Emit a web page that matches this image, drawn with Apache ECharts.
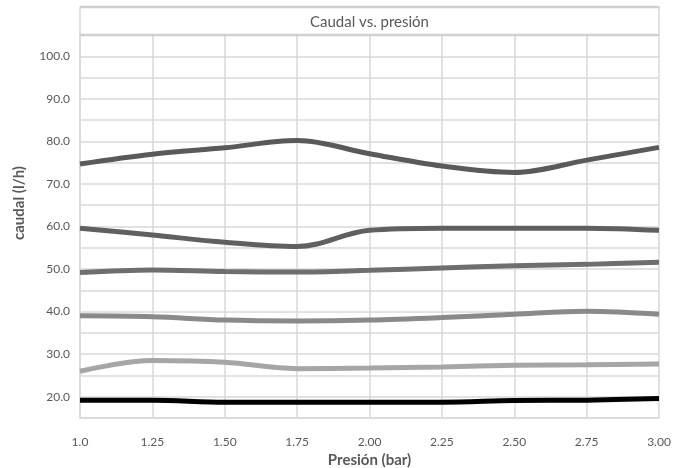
<!DOCTYPE html>
<html>
<head>
<meta charset="utf-8">
<script src="https://cdn.jsdelivr.net/npm/echarts@6/dist/echarts.min.js"></script>
<style>
html,body{margin:0;padding:0;background:#fff;}
#chart{width:676px;height:468px;}
</style>
</head>
<body>
<div id="chart"></div>
<script>
const categories = ["1.0","1.25","1.50","1.75","2.00","2.25","2.50","2.75","3.00"];
const serie1 = [74.7, 77.0, 78.5, 80.2, 77.1, 74.2, 72.7, 75.6, 78.6];
const serie2 = [59.6, 58.0, 56.3, 55.3, 59.1, 59.6, 59.6, 59.6, 59.1];
const serie3 = [49.2, 49.8, 49.4, 49.3, 49.7, 50.25, 50.8, 51.1, 51.6];
const serie4 = [39.0, 38.8, 38.0, 37.8, 38.0, 38.6, 39.4, 40.1, 39.4];
const serie5 = [26.0, 28.5, 28.1, 26.6, 26.75, 27.0, 27.4, 27.5, 27.7];
const serie6 = [19.2, 19.2, 18.7, 18.7, 18.7, 18.7, 19.1, 19.2, 19.6];
const seriesNames = ["Serie 1","Serie 2","Serie 3","Serie 4","Serie 5","Serie 6"];
const seriesData = [serie1, serie2, serie3, serie4, serie5, serie6];
const seriesColors = ["#5a5a5a","#606060","#6e6e6e","#8a8a8a","#a6a6a6","#000000"];

const FONT = 'Lato, "Open Sans", sans-serif';
const chart = echarts.init(document.getElementById('chart'));
chart.setOption({
  animation: false,
  backgroundColor: '#ffffff',
  grid: { left: 80, right: 17, top: 35, bottom: 50, containLabel: false, outerBoundsMode: 'none' },
  xAxis: {
    type: 'category',
    data: categories,
    boundaryGap: false,
    name: 'Presión (bar)',
    nameLocation: 'middle',
    nameGap: 35,
    nameTextStyle: { fontFamily: FONT, fontSize: 15, fontWeight: 'bold', color: '#595959' },
    axisLine: { show: true, lineStyle: { color: '#d9d9d9', width: 1.5 } },
    axisTick: { show: false },
    axisLabel: { fontFamily: FONT, fontSize: 12, color: '#595959', margin: 18 },
    splitLine: { show: true, lineStyle: { color: '#d9d9d9', width: 1.5 } }
  },
  yAxis: {
    type: 'value',
    min: 15, max: 105, interval: 5,
    axisLine: { show: true, lineStyle: { color: '#d9d9d9', width: 1.5 } },
    axisTick: { show: false },
    axisLabel: {
      fontFamily: FONT, fontSize: 12, color: '#595959', margin: 10,
      padding: [7, 0, 0, 0],
      formatter: function (v) {
        return (v % 10 === 0 && v >= 20 && v <= 100) ? v.toFixed(1) : '';
      }
    },
    splitLine: { show: true, lineStyle: { color: '#d9d9d9', width: 1.5 } }
  },
  graphic: [
    { type: 'rect', shape: { x: 80, y: 7, width: 579, height: 28 },
      style: { fill: '#ffffff', stroke: '#d9d9d9', lineWidth: 1.5 }, z: 1 },
    { type: 'line', shape: { x1: 80, y1: 7, x2: 659, y2: 7 },
      style: { stroke: '#cfcfcf', lineWidth: 2.5 }, z: 2 },
    { type: 'line', shape: { x1: 80, y1: 35, x2: 659, y2: 35 },
      style: { stroke: '#d0d0d0', lineWidth: 2.5 }, z: 2 },
    { type: 'text', x: 369.5, y: 22, z: 3,
      style: { text: 'Caudal vs. presión', fontFamily: FONT, fontSize: 15, fill: '#595959',
               textAlign: 'center', textVerticalAlign: 'middle' } },
    { type: 'text', x: 19, y: 203, rotation: Math.PI / 2, z: 3,
      style: { text: 'caudal (l/h)', fontFamily: FONT, fontSize: 15, fontWeight: 'bold', fill: '#595959',
               textAlign: 'center', textVerticalAlign: 'middle' } }
  ],
  series: seriesData.map(function (d, i) {
    return {
      name: seriesNames[i],
      type: 'line',
      data: d,
      smooth: 0.35,
      symbol: 'none',
      lineStyle: { color: seriesColors[i], width: 5 },
      itemStyle: { color: seriesColors[i] },
      z: 5
    };
  })
});
</script>
</body>
</html>
